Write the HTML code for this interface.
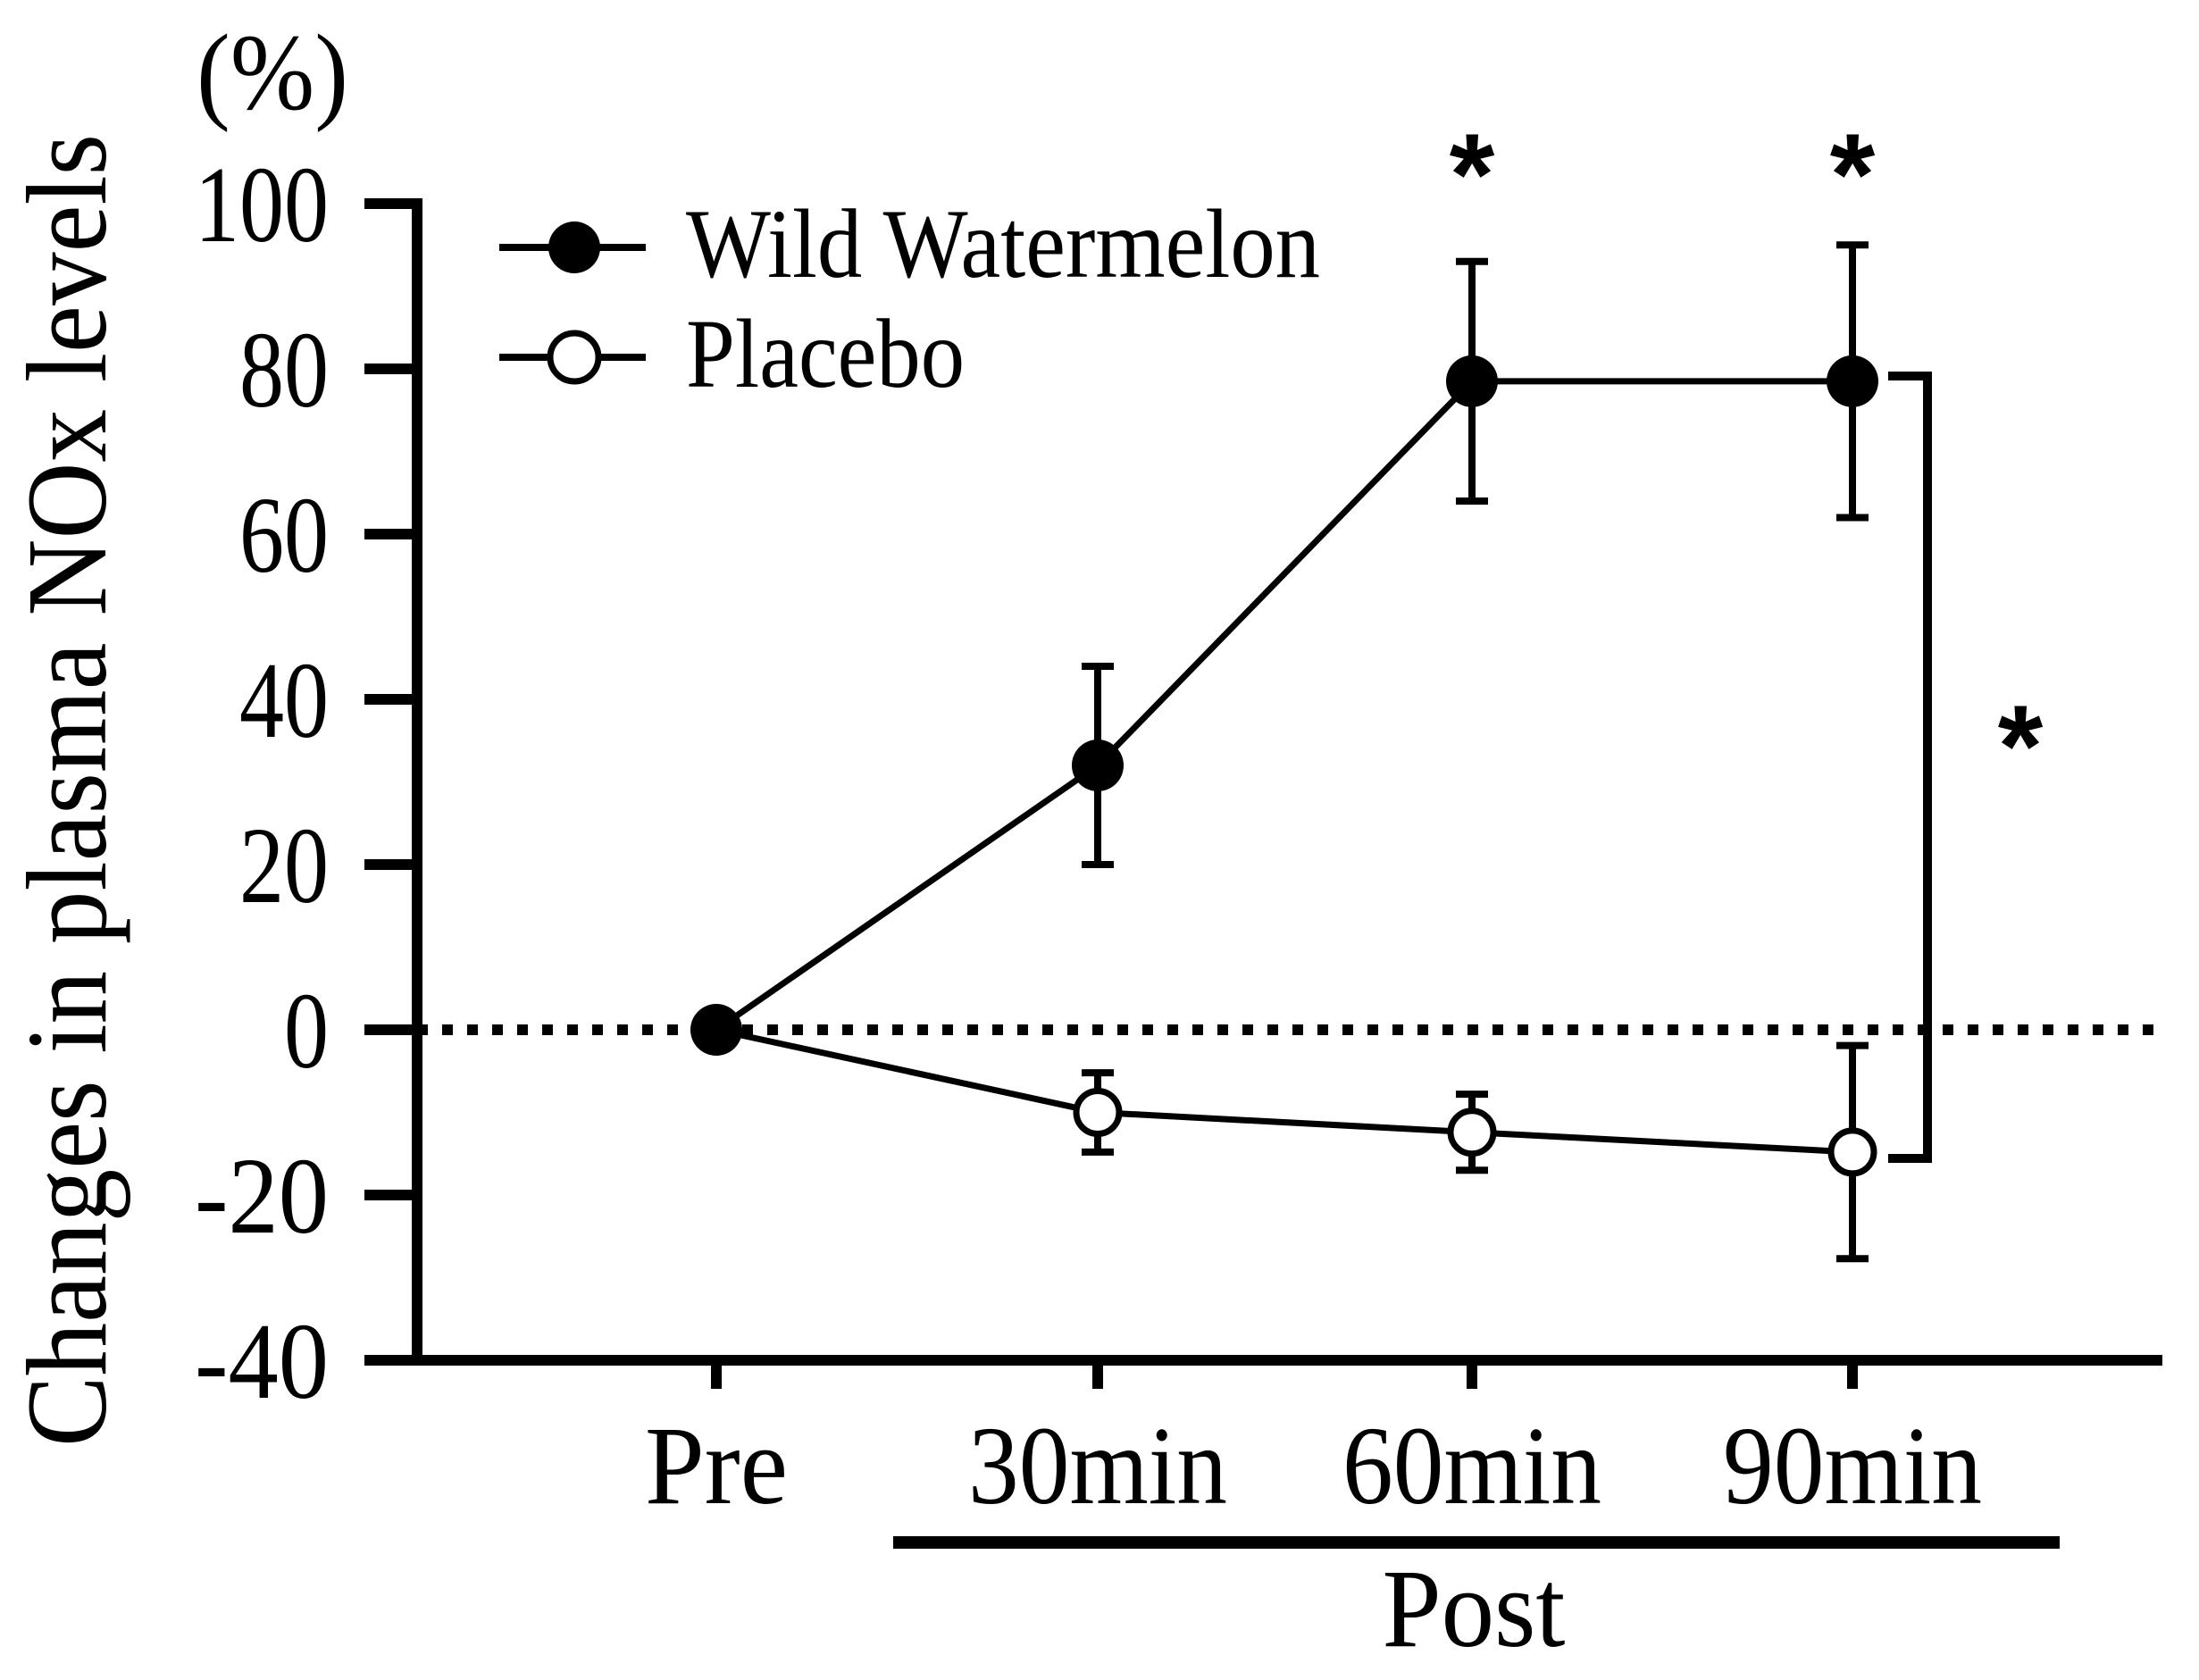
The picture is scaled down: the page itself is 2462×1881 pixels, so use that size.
<!DOCTYPE html>
<html><head><meta charset="utf-8"><style>
html,body{margin:0;padding:0;background:#fff;}
svg{display:block;}
text{font-family:"Liberation Serif","DejaVu Serif",serif;fill:#000;}
.ast{font-family:"Liberation Sans","DejaVu Sans",sans-serif;font-weight:bold;}
</style></head><body>
<svg id="chart" width="2462" height="1881" viewBox="0 0 2462 1881" xmlns="http://www.w3.org/2000/svg">
<g id="axes"></g>
<g id="marks"></g>
<text x="220" y="122" font-size="122" textLength="170" lengthAdjust="spacingAndGlyphs">(%)</text>
<text transform="translate(118,885) rotate(-90)" text-anchor="middle" font-size="128" textLength="1470" lengthAdjust="spacingAndGlyphs">Changes in plasma NOx levels</text>
<g>
  <line x1="559" y1="277" x2="723" y2="277" stroke="#000" stroke-width="8"/>
  <circle cx="643" cy="277" r="29" fill="#000"/>
  <text x="768" y="310" font-size="110" textLength="710" lengthAdjust="spacingAndGlyphs">Wild Watermelon</text>
  <line x1="559" y1="400" x2="723" y2="400" stroke="#000" stroke-width="8"/>
  <circle cx="643" cy="400" r="27" fill="#fff" stroke="#000" stroke-width="7"/>
  <text x="768" y="433" font-size="110" textLength="312" lengthAdjust="spacingAndGlyphs">Placebo</text>
</g>
<line x1="1000" y1="1727" x2="2306" y2="1727" stroke="#000" stroke-width="14"/>
<text x="1650" y="1843" text-anchor="middle" font-size="125" textLength="205" lengthAdjust="spacingAndGlyphs">Post</text>
<g>
  <polyline points="2114,421 2158,421 2158,1297 2114,1297" fill="none" stroke="#000" stroke-width="10"/>
  <text class="ast" x="2262" y="880" text-anchor="middle" font-size="130">*</text>
</g>
</svg>
<script>
const categories = ["Pre","30min","60min","90min"];
const watermelon = [0, 32, 78.5, 78.5];
const watermelonErr = [0, 12, 14.5, 16.5];
const placebo = [0, -10, -12.4, -14.8];
const placeboErr = [0, 4.8, 4.6, 12.9];
const yTicks = [100, 80, 60, 40, 20, 0, -20, -40];
const yTickLabels = ["100","80","60","40","20","0","-20","-40"];
const sigFlags = [false, false, true, true];

const NS = "http://www.w3.org/2000/svg";
const xPos = [802, 1229, 1648, 2074];
function xScale(i){ return xPos[i]; }
function yScale(v){ return 1153 - v * 9.25; }
function mk(tag, attrs, parent){
  const e = document.createElementNS(NS, tag);
  for (const k in attrs) e.setAttribute(k, attrs[k]);
  parent.appendChild(e); return e;
}
const axes = document.getElementById('axes');
const marks = document.getElementById('marks');
const axisX = 467, axisBottom = yScale(-40);

let z = mk('line', {x1: axisX, y1: yScale(0), x2: 2421, y2: yScale(0), stroke: '#000', 'stroke-width': 12, 'stroke-dasharray': '12 16'}, axes);



let ya = mk('line', {x1: axisX, y1: yScale(100) - 6, x2: axisX, y2: axisBottom + 6, stroke: '#000', 'stroke-width': 12}, axes);


let xa = mk('line', {x1: axisX - 6, y1: axisBottom, x2: 2421, y2: axisBottom, stroke: '#000', 'stroke-width': 12}, axes);



yTicks.forEach((v, i) => {
  const y = yScale(v);
  const t = mk('line', {x1: 408, y1: y, x2: axisX, y2: y, stroke: '#000', 'stroke-width': 12}, axes);
  
  
  const lab = mk('text', {x: 368, y: y + 42, 'text-anchor': 'end', 'font-size': 122, textLength: yTickLabels[i].length * 50, lengthAdjust: 'spacingAndGlyphs'}, axes);
  lab.textContent = yTickLabels[i];
  
  
});

categories.forEach((c, i) => {
  const x = xScale(i);
  const t = mk('line', {x1: x, y1: axisBottom, x2: x, y2: axisBottom + 32, stroke: '#000', 'stroke-width': 12}, axes);
  
  
  const lab = mk('text', {x: x, y: 1683, 'text-anchor': 'middle', 'font-size': 125, textLength: i === 0 ? 160 : 290, lengthAdjust: 'spacingAndGlyphs'}, axes);
  lab.textContent = c;
  
  
});

function drawSeries(vals, errs, filled, name){
  const pts = vals.map((v, i) => xScale(i) + ',' + yScale(v)).join(' ');
  const pl = mk('polyline', {points: pts, fill: 'none', stroke: '#000', 'stroke-width': 7}, marks);
  
  
  vals.forEach((v, i) => {
    if (errs[i] > 0) {
      const x = xScale(i), y1 = yScale(v + errs[i]), y2 = yScale(v - errs[i]);
      const eb = mk('path', {d: `M${x},${y1}V${y2}M${x-18},${y1}H${x+18}M${x-18},${y2}H${x+18}`, fill: 'none', stroke: '#000', 'stroke-width': 8}, marks);
      
      
    }
  });
  vals.forEach((v, i) => {
    const c = mk('circle', filled ? {cx: xScale(i), cy: yScale(v), r: 29, fill: '#000'} : {cx: xScale(i), cy: yScale(v), r: 24, fill: '#fff', stroke: '#000', 'stroke-width': 7}, marks);
    
    
  });
}
drawSeries(placebo, placeboErr, false, 'placebo');
drawSeries(watermelon, watermelonErr, true, 'watermelon');

sigFlags.forEach((s, i) => {
  if (!s) return;
  const a = mk('text', {x: xScale(i), y: 240, 'text-anchor': 'middle', 'font-size': 130, 'class': 'ast'}, marks);
  a.textContent = '*';
  
  
});
</script>
</body></html>
